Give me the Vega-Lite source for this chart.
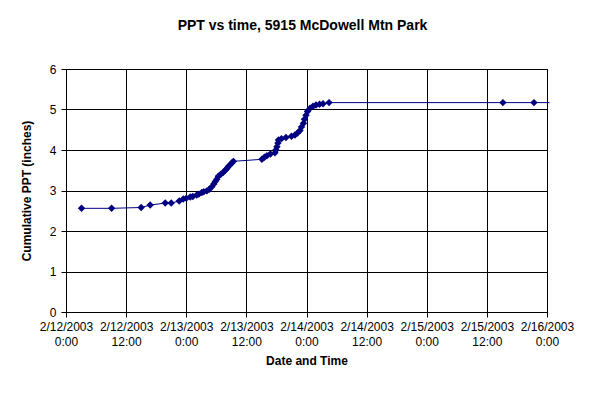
{
  "$schema": "https://vega.github.io/schema/vega-lite/v6.json",
  "width": 481,
  "height": 243,
  "autosize": {"type": "none"},
  "padding": {"left": 66, "top": 69, "right": 44, "bottom": 83},
  "background": "white",
  "title": {
    "text": "PPT vs time, 5915 McDowell Mtn Park",
    "font": "Liberation Sans",
    "fontSize": 14,
    "fontWeight": "bold",
    "color": "black",
    "anchor": "middle",
    "offset": 30,
    "dx": -4
  },
  "config": {
    "view": {"stroke": "black", "strokeWidth": 1},
    "axis": {
      "labelFont": "Liberation Sans",
      "labelFontSize": 12,
      "labelColor": "black",
      "titleFont": "Liberation Sans",
      "titleFontSize": 12,
      "titleFontWeight": "bold",
      "titleColor": "black",
      "domainColor": "black",
      "tickColor": "black",
      "tickSize": 5,
      "gridColor": "black",
      "gridOpacity": 1,
      "gridWidth": 1,
      "domainWidth": 1,
      "tickWidth": 1
    }
  },
  "data": {
    "values": [
      {"time": "2003-02-12T03:06:00", "ppt": 2.56},
      {"time": "2003-02-12T09:06:00", "ppt": 2.56},
      {"time": "2003-02-12T15:00:00", "ppt": 2.58},
      {"time": "2003-02-12T16:48:00", "ppt": 2.64},
      {"time": "2003-02-12T19:48:00", "ppt": 2.69},
      {"time": "2003-02-12T21:00:00", "ppt": 2.69},
      {"time": "2003-02-12T22:36:00", "ppt": 2.74},
      {"time": "2003-02-12T23:24:00", "ppt": 2.79},
      {"time": "2003-02-13T00:00:00", "ppt": 2.81},
      {"time": "2003-02-13T00:48:00", "ppt": 2.84},
      {"time": "2003-02-13T01:18:00", "ppt": 2.85},
      {"time": "2003-02-13T02:06:00", "ppt": 2.89},
      {"time": "2003-02-13T02:30:00", "ppt": 2.91},
      {"time": "2003-02-13T03:06:00", "ppt": 2.95},
      {"time": "2003-02-13T03:30:00", "ppt": 2.97},
      {"time": "2003-02-13T04:06:00", "ppt": 2.99},
      {"time": "2003-02-13T04:36:00", "ppt": 3.03},
      {"time": "2003-02-13T05:06:00", "ppt": 3.09},
      {"time": "2003-02-13T05:30:00", "ppt": 3.16},
      {"time": "2003-02-13T05:48:00", "ppt": 3.22},
      {"time": "2003-02-13T06:06:00", "ppt": 3.28},
      {"time": "2003-02-13T06:24:00", "ppt": 3.35},
      {"time": "2003-02-13T06:54:00", "ppt": 3.40},
      {"time": "2003-02-13T07:24:00", "ppt": 3.45},
      {"time": "2003-02-13T07:48:00", "ppt": 3.50},
      {"time": "2003-02-13T08:06:00", "ppt": 3.54},
      {"time": "2003-02-13T08:24:00", "ppt": 3.59},
      {"time": "2003-02-13T08:48:00", "ppt": 3.64},
      {"time": "2003-02-13T09:06:00", "ppt": 3.68},
      {"time": "2003-02-13T09:24:00", "ppt": 3.72},
      {"time": "2003-02-13T15:06:00", "ppt": 3.77},
      {"time": "2003-02-13T15:36:00", "ppt": 3.82},
      {"time": "2003-02-13T16:06:00", "ppt": 3.86},
      {"time": "2003-02-13T16:48:00", "ppt": 3.90},
      {"time": "2003-02-13T17:42:00", "ppt": 3.93},
      {"time": "2003-02-13T17:54:00", "ppt": 4.00},
      {"time": "2003-02-13T18:06:00", "ppt": 4.08},
      {"time": "2003-02-13T18:18:00", "ppt": 4.17},
      {"time": "2003-02-13T18:24:00", "ppt": 4.25},
      {"time": "2003-02-13T19:00:00", "ppt": 4.28},
      {"time": "2003-02-13T19:54:00", "ppt": 4.31},
      {"time": "2003-02-13T21:00:00", "ppt": 4.34},
      {"time": "2003-02-13T21:42:00", "ppt": 4.37},
      {"time": "2003-02-13T22:12:00", "ppt": 4.42},
      {"time": "2003-02-13T22:42:00", "ppt": 4.48},
      {"time": "2003-02-13T23:00:00", "ppt": 4.57},
      {"time": "2003-02-13T23:24:00", "ppt": 4.66},
      {"time": "2003-02-13T23:36:00", "ppt": 4.76},
      {"time": "2003-02-13T23:54:00", "ppt": 4.86},
      {"time": "2003-02-14T00:12:00", "ppt": 4.95},
      {"time": "2003-02-14T00:42:00", "ppt": 5.03},
      {"time": "2003-02-14T01:18:00", "ppt": 5.08},
      {"time": "2003-02-14T01:54:00", "ppt": 5.11},
      {"time": "2003-02-14T02:36:00", "ppt": 5.13},
      {"time": "2003-02-14T03:18:00", "ppt": 5.14},
      {"time": "2003-02-14T04:30:00", "ppt": 5.17},
      {"time": "2003-02-15T15:12:00", "ppt": 5.17},
      {"time": "2003-02-15T21:24:00", "ppt": 5.17},
      {"time": "2003-02-16T00:30:00", "ppt": 5.17}
    ]
  },
  "encoding": {
    "x": {
      "field": "time",
      "type": "temporal",
      "scale": {
        "domain": [
          {"year": 2003, "month": 2, "date": 12, "hours": 0},
          {"year": 2003, "month": 2, "date": 16, "hours": 0}
        ],
        "nice": false
      },
      "axis": {
        "title": "Date and Time",
        "values": [
          {"year": 2003, "month": 2, "date": 12, "hours": 0},
          {"year": 2003, "month": 2, "date": 12, "hours": 12},
          {"year": 2003, "month": 2, "date": 13, "hours": 0},
          {"year": 2003, "month": 2, "date": 13, "hours": 12},
          {"year": 2003, "month": 2, "date": 14, "hours": 0},
          {"year": 2003, "month": 2, "date": 14, "hours": 12},
          {"year": 2003, "month": 2, "date": 15, "hours": 0},
          {"year": 2003, "month": 2, "date": 15, "hours": 12},
          {"year": 2003, "month": 2, "date": 16, "hours": 0}
        ],
        "labelExpr": "[timeFormat(datum.value, '%-m/%-d/%Y'), timeFormat(datum.value, '%-H:%M')]",
        "labelLineHeight": 15,
        "labelPadding": 4,
        "labelOverlap": false,
        "labelFlush": false,
        "titlePadding": 8
      }
    },
    "y": {
      "field": "ppt",
      "type": "quantitative",
      "scale": {"domain": [0, 6], "nice": false},
      "axis": {
        "title": "Cumulative PPT (inches)",
        "values": [0, 1, 2, 3, 4, 5, 6],
        "labelPadding": 5,
        "titlePadding": 16
      }
    }
  },
  "layer": [
    {
      "mark": {"type": "line", "color": "#000080", "strokeWidth": 1, "clip": false}
    },
    {
      "transform": [{"filter": "toDate(datum.time) < datetime(2003, 1, 16)"}],
      "mark": {"type": "point", "shape": "diamond", "filled": true, "color": "#000080", "size": 55, "opacity": 1}
    }
  ]
}
